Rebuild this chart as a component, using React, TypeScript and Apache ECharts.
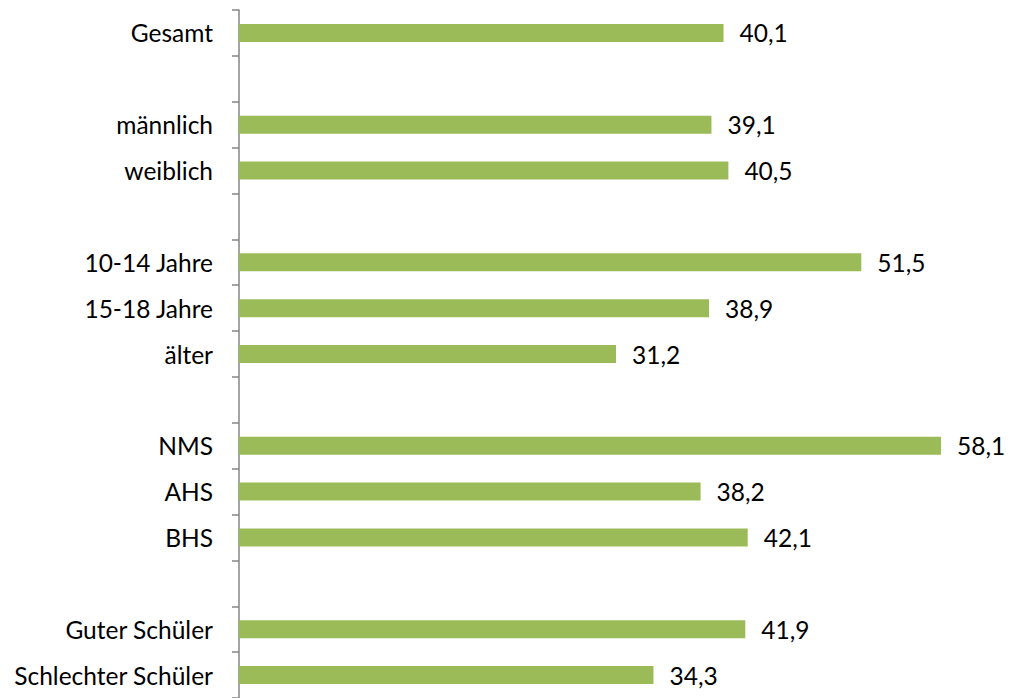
import React, { useEffect, useRef } from "react";
import * as echarts from "echarts";

const categories = [
  "Gesamt",
  "",
  "männlich",
  "weiblich",
  " ",
  "10-14 Jahre",
  "15-18 Jahre",
  "älter",
  "  ",
  "NMS",
  "AHS",
  "BHS",
  "   ",
  "Guter Schüler",
  "Schlechter Schüler",
];

const values: (number | null)[] = [
  40.1, null, 39.1, 40.5, null, 51.5, 38.9, 31.2, null, 58.1, 38.2, 42.1, null, 41.9, 34.3,
];

const FONT = "Lato";

export default function App() {
  const ref = useRef<HTMLDivElement>(null);
  useEffect(() => {
    if (!ref.current) return;
    const chart = echarts.init(ref.current, null, { renderer: "svg" });
    chart.setOption({
      animation: false,
      grid: { left: 239, top: 10, width: 725, height: 693, containLabel: false },
      xAxis: {
        type: "value",
        min: 0,
        max: 60,
        show: false,
      },
      yAxis: {
        type: "category",
        inverse: true,
        data: categories,
        axisLine: { show: true, lineStyle: { color: "#868686", width: 1.5 } },
        axisTick: { show: true, length: 7, lineStyle: { color: "#868686", width: 1.5 } },
        axisLabel: {
          color: "#000",
          fontFamily: FONT,
          fontSize: 24.5,
          margin: 26,
        },
        splitLine: { show: false },
      },
      series: [
        {
          type: "bar",
          data: values.map((v) => (v === null ? "-" : v)),
          barWidth: 18,
          itemStyle: { color: "#9BBB59" },
          label: {
            show: true,
            position: "right",
            distance: 16,
            color: "#000",
            fontFamily: FONT,
            fontSize: 24.5,
            formatter: (p: any) => Number(p.value).toFixed(1).replace(".", ","),
          },
        },
      ],
    });
    return () => chart.dispose();
  }, []);
  return (
    <div
      ref={ref}
      style={{ position: "fixed", left: 0, top: 0, width: 1010, height: 698, background: "#fff" }}
    />
  );
}
